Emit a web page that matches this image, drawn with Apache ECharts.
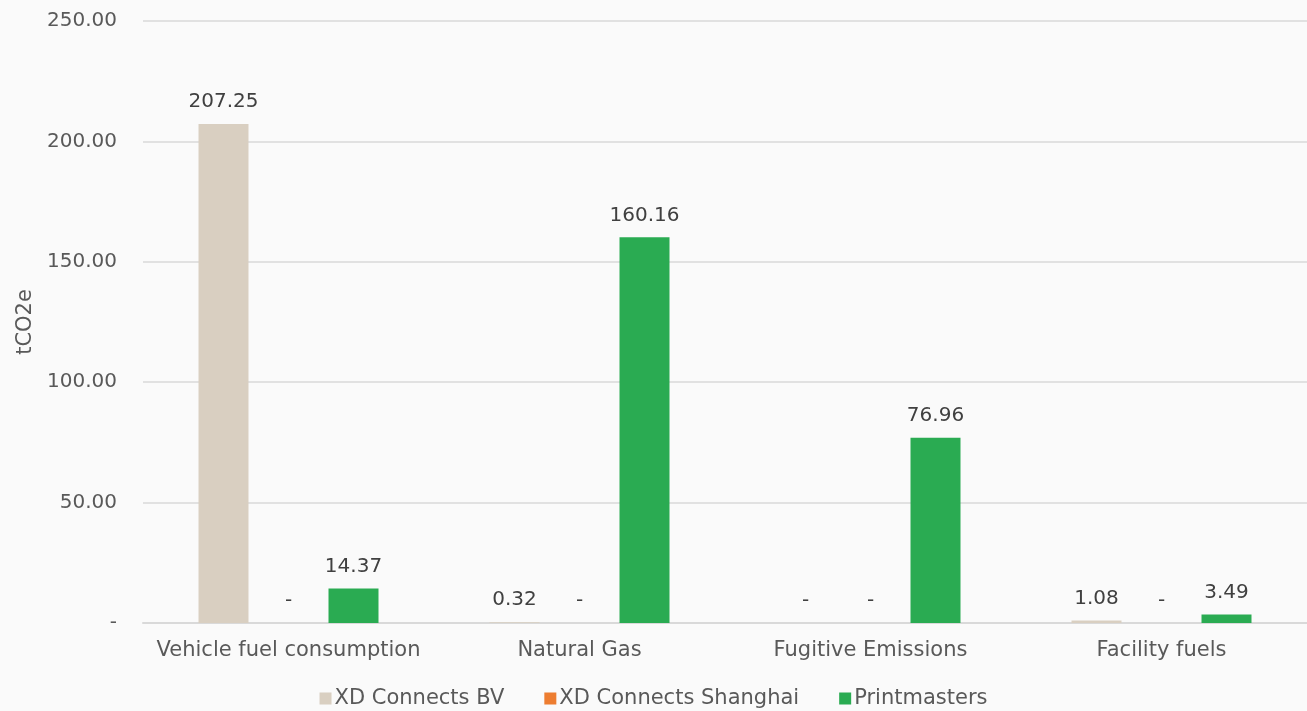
<!DOCTYPE html>
<html>
<head>
<meta charset="utf-8">
<script src="https://cdn.jsdelivr.net/npm/echarts@6/dist/echarts.min.js"></script>
<style>
  html, body { margin: 0; padding: 0; background: #fafafa; }
  #chart { width: 1307px; height: 711px; }
</style>
</head>
<body>
<div id="chart"></div>
<script>
  // 数据
  var categories = ['Vehicle fuel consumption', 'Natural Gas', 'Fugitive Emissions', 'Facility fuels'];
  var seriesNames = ['XD Connects BV', 'XD Connects Shanghai', 'Printmasters'];
  var bvValues = [207.25, 0.32, 0, 1.08];
  var shanghaiValues = [0, 0, 0, 0];
  var printmastersValues = [14.37, 160.16, 76.96, 3.49];
  var yTicks = [0, 50, 100, 150, 200, 250];

  var colors = ['#d9cfc1', '#ed7d31', '#2aab52'];
  var textColor = '#595959';
  var fontFamily = '"DejaVu Sans", sans-serif';
  var numSize = 20;   // 数字
  var textSize = 21;  // 文字

  function fmt(v) {
    return v === 0 ? '-' : v.toFixed(2);
  }

  function makeSeries(name, data, color) {
    return {
      name: name,
      type: 'bar',
      data: data,
      barWidth: 50,
      barGap: '30%',
      itemStyle: { color: color },
      label: {
        show: true,
        position: 'top',
        distance: 12,
        color: '#404040',
        fontSize: numSize,
        fontFamily: fontFamily,
        formatter: function (p) { return fmt(p.value); }
      }
    };
  }

  var chart = echarts.init(document.getElementById('chart'));
  chart.setOption({
    backgroundColor: '#fafafa',
    animation: false,
    textStyle: { fontFamily: fontFamily },
    grid: { left: 143, right: 0, top: 21, bottom: 88 },
    legend: {
      bottom: -3,
      left: 'center',
      itemWidth: 12,
      itemHeight: 12,
      itemGap: 40,
      icon: 'rect',
      data: seriesNames,
      textStyle: { color: textColor, fontSize: textSize, fontFamily: fontFamily, padding: [0, 0, 0, -2] }
    },
    xAxis: {
      type: 'category',
      data: categories,
      axisLine: { lineStyle: { color: '#d9d9d9', width: 2 } },
      axisTick: { show: false },
      axisLabel: { interval: 0, color: textColor, fontSize: textSize, fontFamily: fontFamily, margin: 17 }
    },
    yAxis: {
      type: 'value',
      min: yTicks[0],
      max: yTicks[yTicks.length - 1],
      interval: 50,
      name: 'tCO2e',
      nameLocation: 'middle',
      nameGap: 103,
      nameRotate: 90,
      nameTextStyle: { color: textColor, fontSize: textSize, fontFamily: fontFamily },
      axisLine: { show: false },
      axisTick: { show: false },
      splitLine: { lineStyle: { color: '#d9d9d9', width: 1.5 } },
      axisLabel: {
        color: textColor, fontSize: numSize, fontFamily: fontFamily, margin: 26,
        formatter: function (v) { return fmt(v); }
      }
    },
    series: [
      makeSeries(seriesNames[0], bvValues, colors[0]),
      makeSeries(seriesNames[1], shanghaiValues, colors[1]),
      makeSeries(seriesNames[2], printmastersValues, colors[2])
    ]
  });
</script>
</body>
</html>
